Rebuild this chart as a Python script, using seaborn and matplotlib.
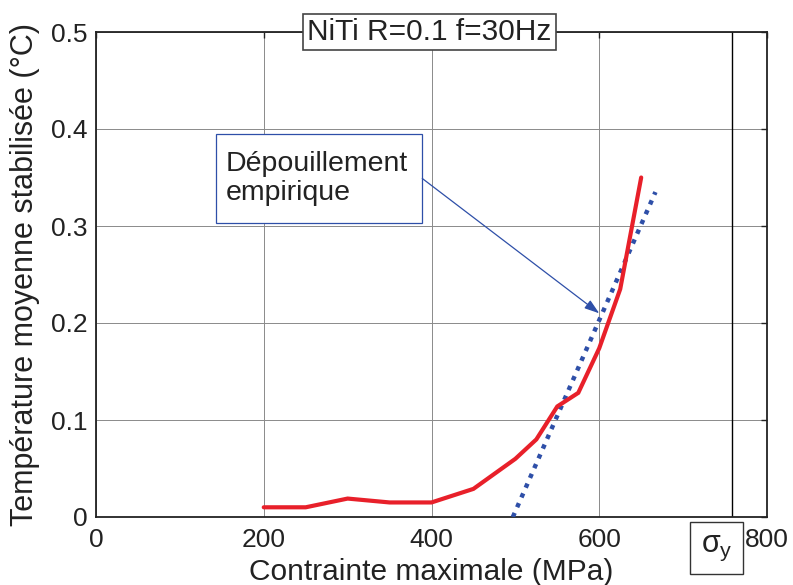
import matplotlib
matplotlib.use("Agg")
import matplotlib.pyplot as plt
import matplotlib.transforms as mtransforms
from matplotlib.patches import Rectangle
import seaborn as sns
import pandas as pd

# Measured mean stabilised temperature vs. maximum stress
stress = [200, 250, 300, 350, 400, 450, 500, 525, 550, 575, 600, 625, 650]
temperature = [0.01, 0.01, 0.019, 0.015, 0.015, 0.029, 0.06, 0.08, 0.114, 0.128, 0.174, 0.235, 0.35]

# Empirical linear fit (dotted)
fit_stress = [497, 667]
fit_temperature = [0.0, 0.335]

# Yield stress
sigma_y = 758

x_ticks = [0, 200, 400, 600, 800]
y_ticks = [0, 0.1, 0.2, 0.3, 0.4, 0.5]

sns.set_style("white")
plt.rcParams["font.family"] = ["Liberation Sans", "DejaVu Sans"]
plt.rcParams["mathtext.fontset"] = "custom"
plt.rcParams["mathtext.rm"] = "Liberation Sans"
plt.rcParams["mathtext.it"] = "Liberation Sans"

text_color = "#222222"
red = "#E8202A"
blue = "#2E4FA8"

fig = plt.figure(figsize=(7.93, 5.85), dpi=100)
ax = fig.add_axes([96 / 793, 68 / 585, 671 / 793, 485 / 585])

df_meas = pd.DataFrame({"stress": stress, "temperature": temperature})
df_fit = pd.DataFrame({"stress": fit_stress, "temperature": fit_temperature})

sns.lineplot(data=df_meas, x="stress", y="temperature", color=red, lw=3.0, ax=ax,
             zorder=4, solid_joinstyle="miter")
sns.lineplot(data=df_fit, x="stress", y="temperature", color=blue, lw=3.2, ax=ax,
             linestyle=(0, (1, 1.4)), zorder=3)
ax.axvline(sigma_y, color="black", lw=1.0, zorder=2)

ax.set_xlim(0, 800)
ax.set_ylim(0, 0.5)
ax.set_xticks(x_ticks)
ax.set_yticks(y_ticks)
ax.set_xticklabels([str(v) for v in x_ticks])
ax.set_yticklabels(["0", "0.1", "0.2", "0.3", "0.4", "0.5"])

ax.grid(True, color="#8a8a8a", lw=0.7, linestyle="-")
ax.set_axisbelow(True)
for s in ax.spines.values():
    s.set_color("#222222")
    s.set_linewidth(1.3)
ax.tick_params(direction="in", length=4, width=1, colors="#222222",
               top=True, right=True, labelsize=19, labelcolor=text_color)
ax.tick_params(axis="x", pad=8)
ax.tick_params(axis="y", pad=6)

ax.set_xlabel("Contrainte maximale (MPa)", fontsize=21.5, color=text_color, labelpad=0)
ax.xaxis.set_label_coords(0.5, -0.085)
ax.xaxis.label.set_va("top")
ax.set_ylabel("Température moyenne stabilisée (°C)", fontsize=22, color=text_color, labelpad=8)

# Title in a box straddling the top border
ax.text(0.497, 1.0, "NiTi R=0.1 f=30Hz", transform=ax.transAxes, ha="center", va="center",
        fontsize=21.5, color=text_color, zorder=10,
        bbox=dict(boxstyle="square,pad=0.14", fc="white", ec="#444444", lw=1.2))

# Annotation box with arrow
ax.add_patch(Rectangle((143, 0.3035), 246, 0.0915, fill=True, fc="white", ec=blue, lw=0.9, zorder=6))
ax.text(155, 0.349, "Dépouillement\nempirique", ha="left", va="center", fontsize=20.5,
        color=text_color, linespacing=1.15, zorder=7)
ax.annotate("", xy=(600, 0.21), xytext=(389, 0.349),
            arrowprops=dict(arrowstyle="-|>,head_length=0.9,head_width=0.3", color=blue, lw=0.9,
                            shrinkA=0, shrinkB=0), zorder=7)

# Yield stress label under the axis
trans = mtransforms.blended_transform_factory(ax.transData, ax.transAxes)
ax.text(740, -0.064, r"$\sigma_{\mathrm{y}}$", transform=trans, ha="center", va="center",
        fontsize=22, color=text_color, zorder=10, clip_on=False,
        bbox=dict(boxstyle="square,pad=0.35", fc="white", ec="#333333", lw=1.0))

fig.savefig("out.png", dpi=100)
